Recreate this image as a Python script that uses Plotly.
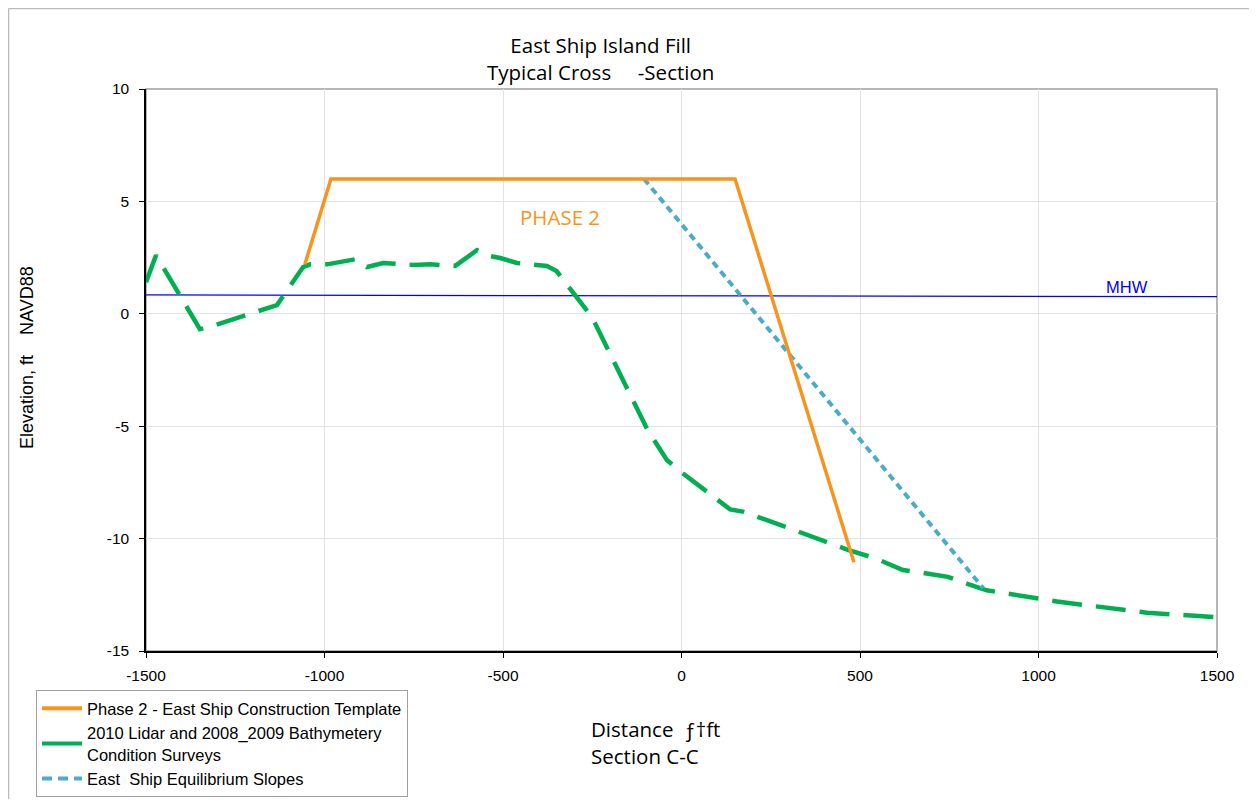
import plotly.graph_objects as go

# ---- data ----
template_x = [-1055, -982, 150, 483]
template_y = [2.2, 6.0, 6.0, -11.05]

survey_x = [-1500, -1472, -1349, -1326, -1133, -1060, -1040, -993, -912, -881, -836, -751,
            -704, -634, -573, -545, -508, -461, -377, -350, -251, -94, -41, -4, 136, 172,
            295, 466, 547, 620, 668, 746, 799, 855, 1052, 1304, 1500]
survey_y = [1.4, 2.6, -0.68, -0.6, 0.39, 2.08, 2.2, 2.2, 2.43, 2.08, 2.26, 2.17,
            2.2, 2.13, 2.83, 2.6, 2.48, 2.26, 2.13, 1.9, -0.14, -5.2, -6.5, -7.0, -8.7, -8.8,
            -9.5, -10.5, -10.9, -11.4, -11.5, -11.7, -12.0, -12.3, -12.8, -13.3, -13.5]

equil_x = [-105, 845]
equil_y = [6.0, -12.2]

mhw_x = [-1500, 1500]
mhw_y = [0.84, 0.76]

x_ticks = [-1500, -1000, -500, 0, 500, 1000, 1500]
x_ticktext = ["-1500", "-1000", "-500", "0", "500", "1000", "1500"]
y_ticks = [-15, -10, -5, 0, 5, 10]
y_ticktext = ["-15", "-10", "-5", "0", "5", "10"]

names = ["Phase 2 - East Ship Construction Template",
         "2010 Lidar and 2008_2009 Bathymetery<br>Condition Surveys",
         "East  Ship Equilibrium Slopes"]

ORANGE = "#F7941D"
GREEN = "#00B050"
BLUE = "#4BACC6"

# plot area pixel geometry (absolute window pixels)
L, R, T, B = 146, 1217, 89, 651
W, H = 1257, 807
OFF = 8  # page body margin
FW, FH = W - 2 * OFF, H - 2 * OFF


def px(xpix):
    return (xpix - L) / (R - L)


def py(ypix):
    return (B - ypix) / (B - T)


fig = go.Figure()

fig.add_trace(go.Scatter(x=mhw_x, y=mhw_y, mode="lines", line=dict(color="#0000FF", width=1.2),
                         showlegend=False, hoverinfo="skip"))
fig.add_trace(go.Scatter(x=survey_x, y=survey_y, mode="lines",
                         line=dict(color=GREEN, width=4.5, dash="30px,14px"),
                         showlegend=False))
fig.add_trace(go.Scatter(x=equil_x, y=equil_y, mode="lines",
                         line=dict(color=BLUE, width=4, dash="7px,5px"),
                         showlegend=False))
fig.add_trace(go.Scatter(x=template_x, y=template_y, mode="lines",
                         line=dict(color=ORANGE, width=3.5),
                         showlegend=False))

# legend entries
fig.add_trace(go.Scatter(x=[None], y=[None], mode="lines", name=names[0],
                         line=dict(color=ORANGE, width=4)))
fig.add_trace(go.Scatter(x=[None], y=[None], mode="lines", name=names[1],
                         line=dict(color=GREEN, width=4)))
fig.add_trace(go.Scatter(x=[None], y=[None], mode="lines", name=names[2],
                         line=dict(color=BLUE, width=4, dash="10px,6px")))

axis_common = dict(showgrid=True, gridcolor="#E3E3E3", gridwidth=1, zeroline=False,
                   showline=True, linecolor="black", linewidth=1.5,
                   ticks="outside", ticklen=5, tickcolor="black",
                   tickfont=dict(family="Arial", size=15.5, color="black"))

fig.update_xaxes(range=[-1500, 1500], tickvals=x_ticks, ticktext=x_ticktext,
                 ticklabelstandoff=5, **axis_common)
fig.update_yaxes(range=[-15, 10], tickvals=y_ticks, ticktext=y_ticktext,
                 ticklabelstandoff=7, **axis_common)

shapes = [
    dict(type="rect", xref="paper", yref="paper", x0=0, x1=1, y0=0, y1=1,
         line=dict(color="#A0A0A0", width=1.5), layer="below"),
    dict(type="line", xref="paper", yref="paper", x0=px(8.5), x1=px(8.5), y0=py(8.5), y1=py(810),
         line=dict(color="#BBBBBB", width=1.5)),
    dict(type="line", xref="paper", yref="paper", x0=px(8.5), x1=px(1260), y0=py(8.5), y1=py(8.5),
         line=dict(color="#BBBBBB", width=1.5)),
]

annotations = [
    dict(text="East Ship Island Fill<br>Typical Cross \u00a0\u00a0\u00a0\u00a0-Section",
         xref="paper", yref="paper", x=px(600), y=py(58), xanchor="center", yanchor="middle",
         showarrow=False, font=dict(family="Open Sans", size=20.5, color="black")),
    dict(text="Elevation, ft \u00a0\u00a0\u00a0NAVD88", textangle=-90,
         xref="paper", yref="paper", x=px(27), y=py(358), xanchor="center", yanchor="middle",
         showarrow=False, font=dict(family="Arial", size=18, color="black")),
    dict(text="Distance \u00a0ƒ†ft<br>Section C-C", align="left",
         xref="paper", yref="paper", x=px(589), y=py(742), xanchor="left", yanchor="middle",
         showarrow=False, font=dict(family="Open Sans", size=20.5, color="black")),
    dict(text="PHASE 2", x=-340, y=4.3, xref="x", yref="y", showarrow=False,
         font=dict(family="Open Sans", size=20.5, color=ORANGE)),
    dict(text="MHW", x=1248, y=1.2, xref="x", yref="y", showarrow=False,
         font=dict(family="Arial", size=16.5, color="#0000FF")),
]

fig.update_layout(
    width=FW, height=FH,
    margin=dict(l=L - OFF, r=(OFF + FW) - R, t=T - OFF, b=(OFF + FH) - B, pad=0,
                autoexpand=False),
    paper_bgcolor="white", plot_bgcolor="white",
    shapes=shapes, annotations=annotations,
    legend=dict(x=px(36), y=py(690), xanchor="left", yanchor="top",
                bordercolor="#A0A0A0", borderwidth=1, bgcolor="white",
                font=dict(family="Arial", size=16.5, color="black"),
                itemwidth=40, tracegroupgap=0),
    showlegend=True,
)

fig.write_html("out.html")
